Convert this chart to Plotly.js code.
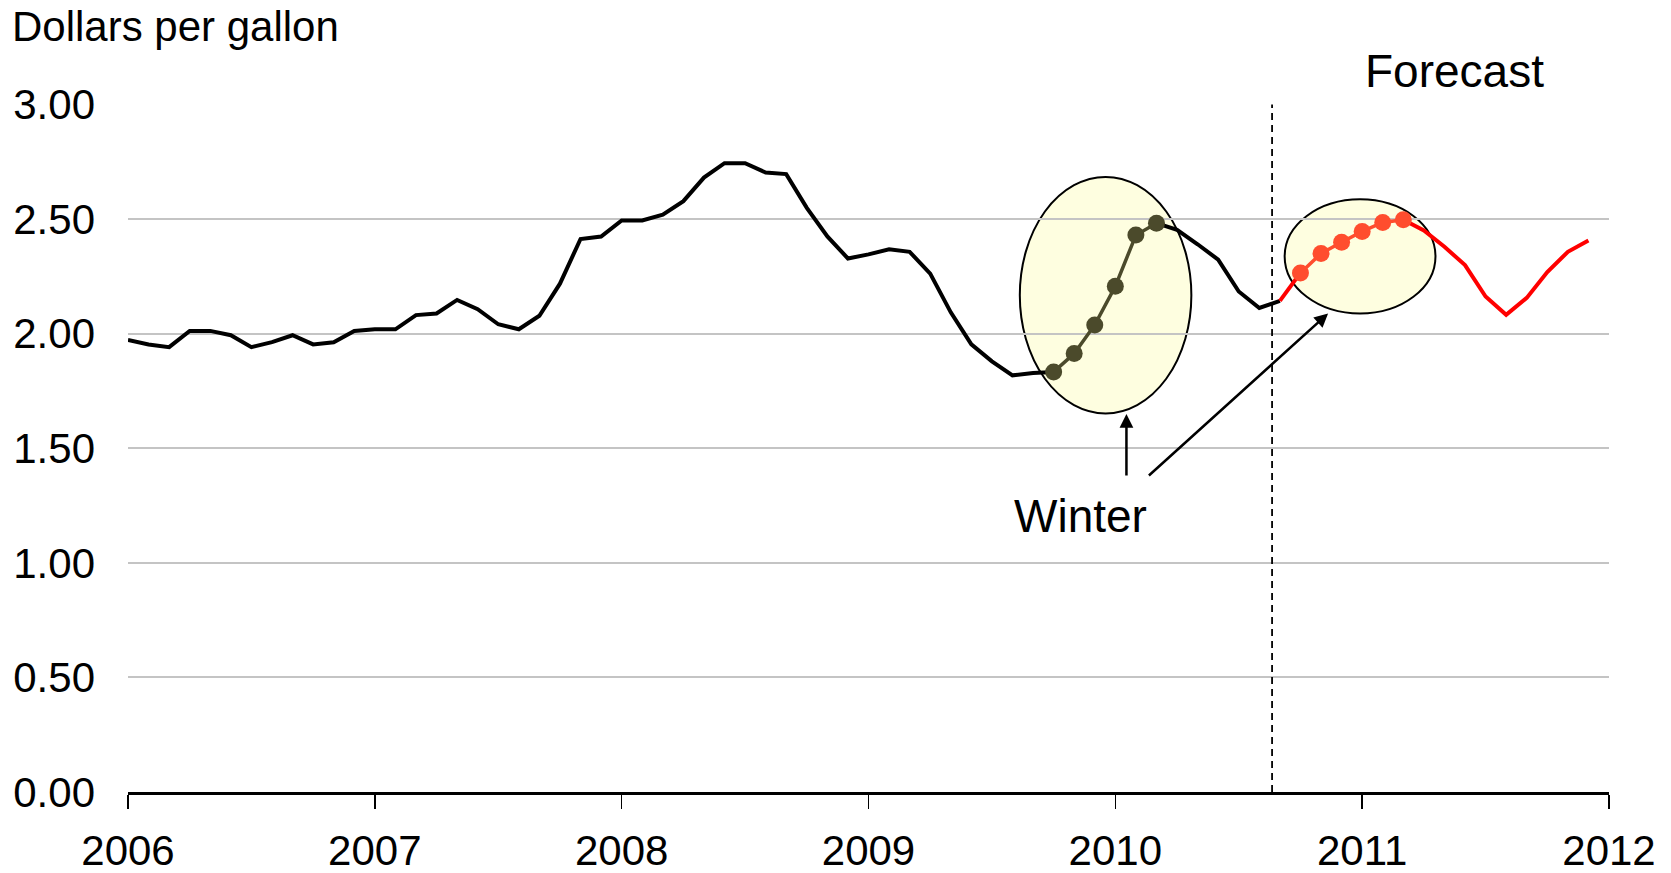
<!DOCTYPE html>
<html>
<head>
<meta charset="utf-8">
<script src="https://cdn.plot.ly/plotly-3.0.1.min.js"></script>
<style>
  html, body { margin: 0; padding: 0; background: #ffffff; }
  #chart { width: 1671px; height: 873px; }
</style>
</head>
<body>
<div id="chart"></div>
<script>
// ---- Data (dollars per gallon, monthly) ----
const startYear = 2006;
// History: Jan 2006 .. Sep 2010
const history = [
  1.972, 1.953, 1.941, 2.012, 2.012, 1.993, 1.941, 1.963, 1.993, 1.953, 1.962, 2.012, // 2006
  2.019, 2.019, 2.081, 2.088, 2.147, 2.107, 2.041, 2.019, 2.078, 2.218, 2.413, 2.424, // 2007
  2.494, 2.494, 2.519, 2.578, 2.681, 2.744, 2.744, 2.703, 2.696, 2.549, 2.424, 2.328, // 2008
  2.346, 2.368, 2.357, 2.262, 2.093, 1.953, 1.879, 1.818, 1.828, 1.833, 1.913, 2.038, // 2009
  2.207, 2.430, 2.482, 2.453, 2.390, 2.323, 2.184, 2.112, 2.143                        // 2010
];
// Forecast: Sep 2010 .. Dec 2011
const forecastStartIndex = 56;
const forecast = [
  2.143, 2.265, 2.350, 2.399, 2.446, 2.485, 2.497, 2.450,
  2.379, 2.299, 2.162, 2.082, 2.156, 2.269, 2.357, 2.406
];
// Winter months highlighted (month indices from Jan 2006)
const winterHistory = [45, 50];   // Oct 2009 .. Mar 2010
const winterForecast = [57, 62];  // Oct 2010 .. Mar 2011

const xTickYears = [2006, 2007, 2008, 2009, 2010, 2011, 2012];
const yTickVals = [0, 0.5, 1.0, 1.5, 2.0, 2.5, 3.0];
const yTickText = ['0.00', '0.50', '1.00', '1.50', '2.00', '2.50', '3.00'];

const forecastLineX = 2010.635;
const labels = { yTitle: 'Dollars per gallon', forecast: 'Forecast', winter: 'Winter' };

// ---- Build traces ----
const monthX = i => startYear + i / 12;

const histX = history.map((_, i) => monthX(i));
const histY = history.map((v, i) => (i > winterHistory[0] && i < winterHistory[1]) ? null : v);

const fcX = forecast.map((_, i) => monthX(forecastStartIndex + i));
const fcY = forecast.map((v, i) => {
  const m = forecastStartIndex + i;
  return (m > winterForecast[0] && m < winterForecast[1]) ? null : v;
});

const whX = [], whY = [];
for (let m = winterHistory[0]; m <= winterHistory[1]; m++) { whX.push(monthX(m)); whY.push(history[m]); }
const wfX = [], wfY = [];
for (let m = winterForecast[0]; m <= winterForecast[1]; m++) { wfX.push(monthX(m)); wfY.push(forecast[m - forecastStartIndex]); }

const FONT = 'Arial, "Liberation Sans", sans-serif';

const traces = [
  { x: histX, y: histY, type: 'scatter', mode: 'lines', connectgaps: false,
    line: { color: '#000000', width: 4 }, hoverinfo: 'skip' },
  { x: fcX, y: fcY, type: 'scatter', mode: 'lines', connectgaps: false,
    line: { color: '#ff0000', width: 4 }, hoverinfo: 'skip' },
  { x: whX, y: whY, type: 'scatter', mode: 'lines+markers',
    line: { color: '#4b4a2b', width: 3.5 }, marker: { color: '#4b4a2b', size: 17 } },
  { x: wfX, y: wfY, type: 'scatter', mode: 'lines+markers',
    line: { color: '#ff4d2e', width: 3.5 }, marker: { color: '#ff4d2e', size: 17 } }
];

const layout = {
  width: 1671, height: 873,
  margin: { l: 128, r: 62, t: 104, b: 81 },
  paper_bgcolor: '#ffffff', plot_bgcolor: '#ffffff',
  showlegend: false,
  font: { family: FONT, size: 42, color: '#000000' },
  xaxis: {
    range: [2006, 2012],
    tickvals: xTickYears, ticktext: xTickYears.map(String),
    showgrid: false, zeroline: false,
    showline: true, linecolor: '#000000', linewidth: 3,
    ticks: 'outside', ticklen: 14, tickwidth: 1.5, tickcolor: '#000000',
    ticklabelstandoff: 6,
    tickfont: { family: FONT, size: 42, color: '#000000' }
  },
  yaxis: {
    range: [0, 3.002],
    tickvals: yTickVals, ticktext: yTickText,
    showgrid: true, gridcolor: '#c4c4c4', gridwidth: 2,
    zeroline: false, showline: false, ticks: '',
    ticklabelstandoff: 32,
    tickfont: { family: FONT, size: 42, color: '#000000' }
  },
  shapes: [
    { type: 'circle', xref: 'x', yref: 'y', layer: 'below',
      x0: 2009.613, x1: 2010.308, y0: 1.652, y1: 2.684,
      fillcolor: '#fefee0', line: { color: '#000000', width: 2 } },
    { type: 'circle', xref: 'x', yref: 'y', layer: 'below',
      x0: 2010.686, x1: 2011.297, y0: 2.088, y1: 2.586,
      fillcolor: '#fefee0', line: { color: '#000000', width: 2 } },
    { type: 'line', xref: 'x', yref: 'y', x0: forecastLineX, x1: forecastLineX, y0: 0, y1: 3.0,
      line: { color: '#000000', width: 1.8, dash: '7px,5px' } }
  ],
  annotations: [
    { xref: 'paper', yref: 'paper', x: -0.0797, y: 1.1126, xanchor: 'left', yanchor: 'middle',
      text: labels.yTitle, showarrow: false, font: { family: FONT, size: 42, color: '#000000' } },
    { xref: 'paper', yref: 'paper', x: 0.8958, y: 1.0474, xanchor: 'center', yanchor: 'middle',
      text: labels.forecast, showarrow: false, font: { family: FONT, size: 46, color: '#000000' } },
    { xref: 'x', yref: 'y', x: 2009.859, y: 1.204, xanchor: 'center', yanchor: 'middle',
      text: labels.winter, showarrow: false, font: { family: FONT, size: 46, color: '#000000' } },
    { xref: 'x', yref: 'y', axref: 'x', ayref: 'y', x: 2010.045, y: 1.649, ax: 2010.045, ay: 1.375,
      text: '', showarrow: true, arrowhead: 2, arrowsize: 1.1, arrowwidth: 2.5, arrowcolor: '#000000', standoff: 0 },
    { xref: 'x', yref: 'y', axref: 'x', ayref: 'y', x: 2010.862, y: 2.088, ax: 2010.130, ay: 1.375,
      text: '', showarrow: true, arrowhead: 2, arrowsize: 1.1, arrowwidth: 2.5, arrowcolor: '#000000', standoff: 0 }
  ]
};

Plotly.newPlot('chart', traces, layout, { staticPlot: true, displayModeBar: false });
</script>
</body>
</html>
